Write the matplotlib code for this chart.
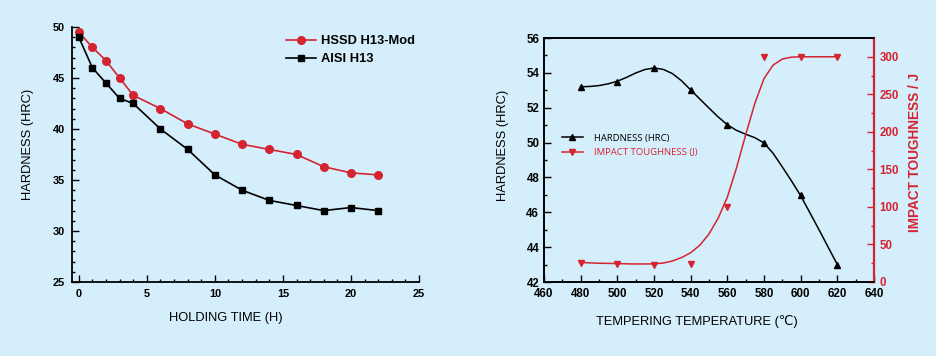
import matplotlib
matplotlib.use("Agg")
import matplotlib.pyplot as plt
from matplotlib.ticker import MultipleLocator
from matplotlib.lines import Line2D

# ---------------- data ----------------
hold_time = [0, 1, 2, 3, 4, 6, 8, 10, 12, 14, 16, 18, 20, 22]
hssd_hardness = [49.5, 48.0, 46.7, 45.0, 43.3, 42.0, 40.5, 39.5, 38.5, 38.0, 37.5, 36.3, 35.7, 35.5]
aisi_hardness = [49.0, 46.0, 44.5, 43.0, 42.5, 40.0, 38.0, 35.5, 34.0, 33.0, 32.5, 32.0, 32.3, 32.0]

temper_temp = [480, 500, 520, 540, 560, 580, 600, 620]
temper_hardness = [53.2, 53.5, 54.3, 53.0, 51.0, 50.0, 47.0, 43.0]
impact_j = [25, 24, 23, 24, 100, 300, 300, 300]

# smooth curves
curve_temp = [480, 485, 490, 495, 500, 505, 510, 515, 520, 525, 530, 535, 540, 545, 550,
              555, 560, 565, 570, 575, 580, 585, 590, 595, 600, 605, 610, 615, 620]
curve_hardness = [53.2, 53.22, 53.27, 53.37, 53.52, 53.74, 53.99, 54.19, 54.28, 54.2, 53.96, 53.55,
                  53.02, 52.5, 51.98, 51.47, 51.02, 50.7, 50.48, 50.28, 49.98, 49.38, 48.6, 47.8,
                  46.95, 45.98, 45.0, 44.0, 43.0]
curve_impact = [26, 25.5, 25, 24.8, 24.5, 24.2, 24, 24, 24.2, 25.2, 28, 32.5, 39, 49, 64,
                85, 113, 152, 196, 238, 271, 289, 297, 299.5, 300, 300, 300, 300, 300]

# ---------------- style ----------------
BG = "#D5EEFB"
RED = "#D42430"
plt.rcParams['font.family'] = ['Liberation Sans', 'DejaVu Sans']

fig = plt.figure(figsize=(9.37, 3.56), dpi=100, facecolor=BG)
W, H = 937, 356

def axrect(l, t, r, b):
    return [l / W, 1 - b / H, (r - l) / W, (b - t) / H]

# ---------------- left chart ----------------
ax1 = fig.add_axes(axrect(72, 27, 419, 282))
ax1.set_facecolor(BG)
ax1.plot(hold_time, hssd_hardness, color=RED, lw=1.2, marker='o', ms=5.5,
         label='HSSD H13-Mod')
ax1.plot(hold_time, aisi_hardness, color='black', lw=1.2, marker='s', ms=4.5,
         label='AISI H13')
ax1.set_xlim(-0.5, 25)
ax1.set_ylim(25, 50)
ax1.spines['top'].set_visible(False)
ax1.spines['right'].set_visible(False)
for s in ['left', 'bottom']:
    ax1.spines[s].set_linewidth(1.3)
ax1.xaxis.set_major_locator(MultipleLocator(5))
ax1.xaxis.set_minor_locator(MultipleLocator(1))
ax1.yaxis.set_major_locator(MultipleLocator(5))
ax1.yaxis.set_minor_locator(MultipleLocator(1))
ax1.tick_params(which='both', direction='in', width=1.0)
ax1.tick_params(which='major', length=5, labelsize=7.9)
ax1.tick_params(axis='x', which='major', pad=5)
ax1.tick_params(axis='y', which='major', pad=5)
ax1.tick_params(which='minor', length=2.5)
for lab in ax1.get_xticklabels() + ax1.get_yticklabels():
    lab.set_fontweight('bold')
leg1 = ax1.legend(loc='upper left', bbox_to_anchor=((281 - 72) / 347, 1 - (30 - 27) / 255),
                  frameon=False, prop={'weight': 'bold', 'size': 9.3},
                  handlelength=2.3, handletextpad=0.4, labelspacing=0.45,
                  borderaxespad=0)
fig.text(226 / W, 1 - 318 / H, 'HOLDING TIME (H)', ha='center', va='center', fontsize=9.3)
fig.text(28 / W, 1 - 144 / H, 'HARDNESS (HRC)', ha='center', va='center',
         rotation=90, fontsize=9.3)

# ---------------- right chart ----------------
ax2 = fig.add_axes(axrect(544, 38, 874, 282))
ax2.set_facecolor(BG)
ax3 = ax2.twinx()
ax2.plot(curve_temp, curve_hardness, color='black', lw=1.1)
ax2.plot(temper_temp, temper_hardness, ls='none', color='black', marker='^', ms=5)
ax3.plot(curve_temp, curve_impact, color=RED, lw=1.1)
ax3.plot(temper_temp, impact_j, ls='none', color=RED, marker='v', ms=5)

ax2.set_xlim(460, 640)
ax2.set_ylim(42, 56)
ax3.set_ylim(0, 325)
ax2.xaxis.set_major_locator(MultipleLocator(20))
ax2.xaxis.set_minor_locator(MultipleLocator(10))
ax2.yaxis.set_major_locator(MultipleLocator(2))
ax2.yaxis.set_minor_locator(MultipleLocator(1))
ax3.yaxis.set_major_locator(MultipleLocator(50))
ax3.yaxis.set_minor_locator(MultipleLocator(25))
for s in ax2.spines.values():
    s.set_linewidth(1.2)
for s in ax3.spines.values():
    s.set_linewidth(1.2)
ax3.spines['right'].set_color(RED)
ax3.spines['right'].set_linewidth(1.6)
ax2.tick_params(which='both', direction='in', width=1.0)
ax2.tick_params(which='major', length=5, labelsize=8.3)
ax2.tick_params(axis='x', which='major', pad=4.5)
ax2.tick_params(axis='y', which='major', pad=3.5)
ax2.tick_params(which='minor', length=2.5)
ax2.tick_params(axis='x', which='both', top=False)
ax3.tick_params(which='both', direction='in', width=1.0, color=RED, labelcolor=RED)
ax3.tick_params(which='major', length=5, labelsize=8.3, pad=4)
ax3.tick_params(which='minor', length=2.5)
for lab in ax2.get_xticklabels() + ax2.get_yticklabels() + ax3.get_yticklabels():
    lab.set_fontweight('bold')

h1 = Line2D([], [], color='black', lw=1.1, marker='^', ms=4.5)
h2 = Line2D([], [], color=RED, lw=1.1, marker='v', ms=4.5)
leg2 = ax2.legend([h1, h2], ['HARDNESS (HRC)', 'IMPACT TOUGHNESS (J)'],
                  loc='upper left',
                  bbox_to_anchor=((558 - 544) / 330, 1 - (130 - 38) / 244),
                  frameon=False, prop={'family': ['Open Sans', 'DejaVu Sans'], 'size': 6.8},
                  handlelength=2.2, handletextpad=1.2, labelspacing=0.6, borderaxespad=0)
for t in leg2.get_texts()[1:]:
    t.set_color(RED)

fig.text(697 / W, 1 - 321 / H, 'TEMPERING TEMPERATURE (\u2103)', ha='center', va='center',
         fontsize=9.3)
fig.text(503 / W, 1 - 145 / H, 'HARDNESS (HRC)', ha='center', va='center',
         rotation=90, fontsize=9.3)
fig.text(915 / W, 1 - 152 / H, 'IMPACT TOUGHNESS / J', ha='center', va='center',
         rotation=90, fontsize=9.8, fontweight='bold', color=RED)

fig.savefig('out.png', dpi=100, facecolor=BG)
